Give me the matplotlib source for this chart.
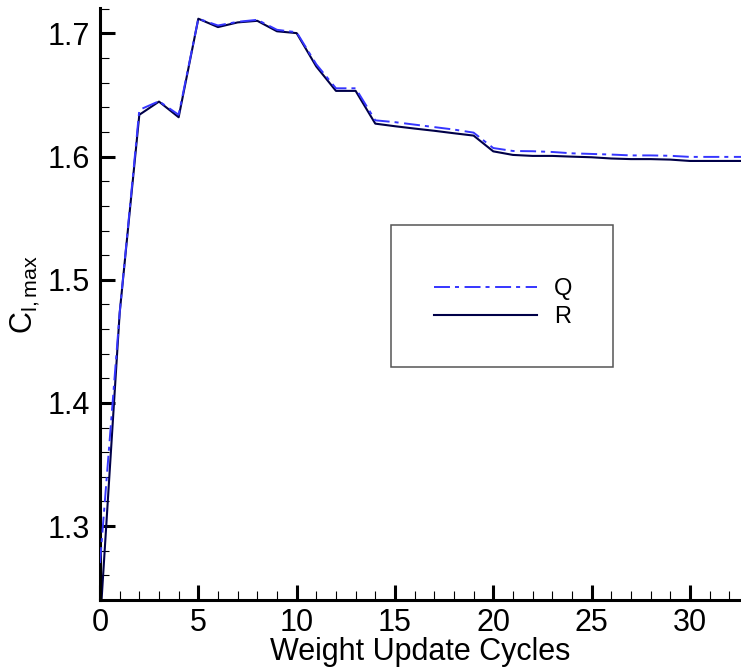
import matplotlib
matplotlib.use("Agg")
import matplotlib.pyplot as plt
from matplotlib.ticker import MultipleLocator
from matplotlib.patches import Rectangle

plt.rcParams['font.family'] = ['Liberation Sans', 'DejaVu Sans']
plt.rcParams['mathtext.fontset'] = 'custom'
plt.rcParams['mathtext.rm'] = 'Liberation Sans'
plt.rcParams['mathtext.it'] = 'Liberation Sans'
plt.rcParams['lines.scale_dashes'] = False

cycles = list(range(0, 34))
q_vals = [1.27, 1.473, 1.638, 1.645, 1.634, 1.712, 1.7065, 1.7095, 1.7111, 1.703,
          1.701, 1.675, 1.6555, 1.6555, 1.6295, 1.628, 1.626, 1.624, 1.622, 1.6195,
          1.607, 1.6046, 1.6044, 1.6038, 1.6027, 1.6022, 1.6017, 1.601, 1.601, 1.6007,
          1.5998, 1.5998, 1.5998, 1.5998]
r_vals = [1.22, 1.473, 1.634, 1.6447, 1.632, 1.712, 1.7052, 1.709, 1.7103, 1.7018,
          1.7003, 1.6732, 1.6534, 1.6534, 1.6268, 1.6247, 1.6228, 1.621, 1.619, 1.6171,
          1.6043, 1.6014, 1.6006, 1.6006, 1.600, 1.5995, 1.5985, 1.598, 1.598, 1.5976,
          1.5965, 1.5965, 1.5965, 1.5965]

W, H = 741, 668
fig = plt.figure(figsize=(W / 100, H / 100), dpi=100)
ax = fig.add_axes([100 / W, (H - 600) / H, (W - 100) / W, (600 - 8) / H])

ax.plot(cycles, q_vals, color='#3535ff', lw=1.4, dashes=(11.5, 3.6, 2.9, 4.0), label='Q', zorder=3)
ax.plot(cycles, r_vals, color='#000048', lw=1.5, label='R', zorder=2)

ax.set_xlim(0, 32.6)
ax.set_ylim(1.24, 1.7207)
ax.xaxis.set_major_locator(MultipleLocator(5))
ax.xaxis.set_minor_locator(MultipleLocator(1))
ax.yaxis.set_major_locator(MultipleLocator(0.1))
ax.yaxis.set_minor_locator(MultipleLocator(0.02))
ax.yaxis.set_major_formatter(matplotlib.ticker.FormatStrFormatter('%.1f'))

for s in ['top', 'right']:
    ax.spines[s].set_visible(False)
for s in ['left', 'bottom']:
    ax.spines[s].set_linewidth(2.2)
ax.tick_params(which='major', direction='in', length=11, width=2.2, labelsize=22, pad=6)
ax.tick_params(axis='y', which='major', pad=7)
ax.tick_params(which='minor', direction='in', length=6.5, width=0.8)

ax.set_xlabel('Weight Update Cycles', fontsize=22, labelpad=-1)
ax.set_ylabel(r'$\mathrm{C}_{\mathrm{l,max}}$', fontsize=22)
ax.yaxis.set_label_coords(-0.09, 0.515)

rect = Rectangle((391 / W, (H - 367) / H), (613 - 391) / W, (367 - 225) / H,
                 transform=fig.transFigure, fill=False, edgecolor='#555555', lw=1.1)
fig.patches.append(rect)
leg = ax.legend(loc='center', bbox_to_anchor=(503 / W, (H - 303) / H), bbox_transform=fig.transFigure,
                frameon=False, fontsize=17, handlelength=4.4, handletextpad=0.7, labelspacing=0.25)

fig.savefig('out.png', dpi=100)
